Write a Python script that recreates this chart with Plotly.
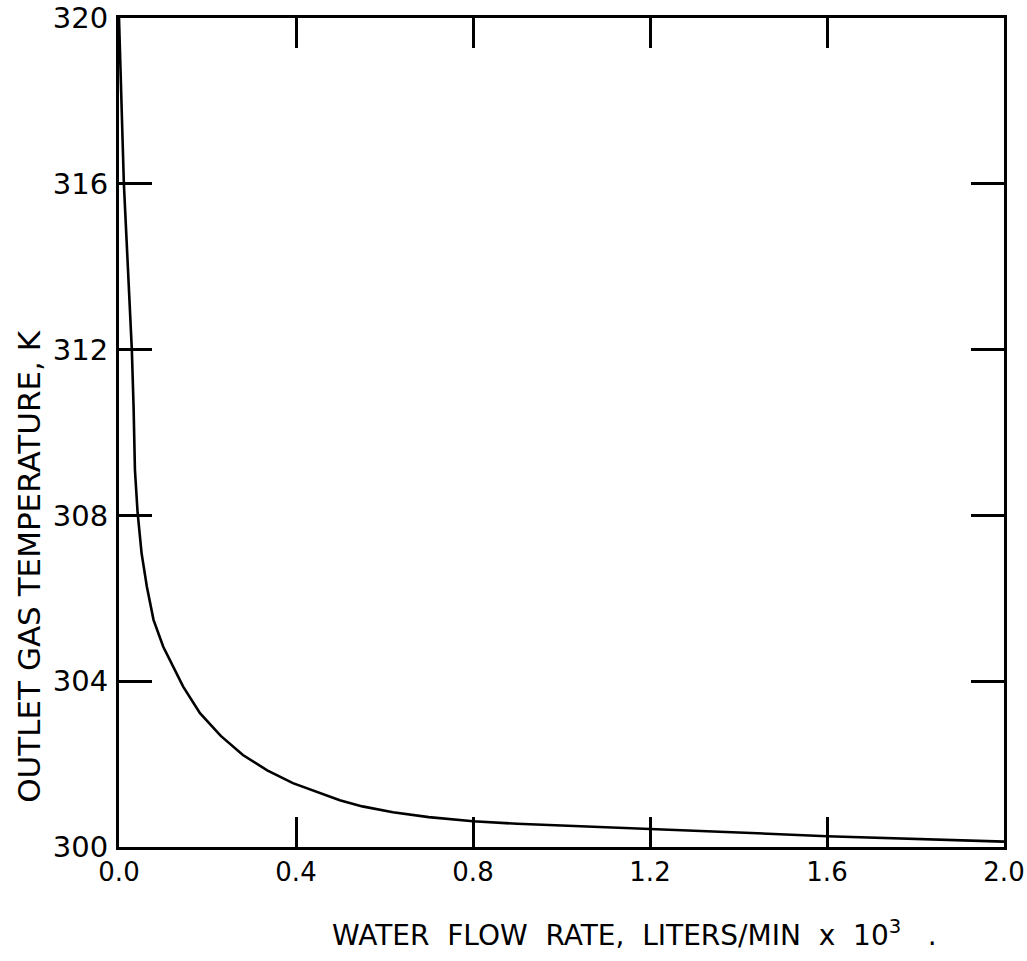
import plotly.graph_objects as go

# Data
flow_rate = [0.0, 0.005, 0.011, 0.020, 0.029, 0.033, 0.036, 0.042, 0.051, 0.063,
             0.078, 0.100, 0.130, 0.145, 0.183, 0.230, 0.280, 0.335, 0.393, 0.45,
             0.499, 0.55, 0.619, 0.70, 0.80, 0.90, 1.0, 1.2, 1.4, 1.6, 1.8, 2.0]
outlet_temp = [320.0, 317.9, 316.0, 314.0, 312.0, 310.6, 309.1, 308.07, 307.09, 306.28,
               305.48, 304.83, 304.2, 303.87, 303.23, 302.68, 302.22, 301.85, 301.54, 301.31,
               301.13, 300.98, 300.84, 300.72, 300.62, 300.56, 300.52, 300.44, 300.35, 300.26,
               300.19, 300.13]

x_tickvals = [0.0, 0.4, 0.8, 1.2, 1.6, 2.0]
x_ticktext = ["0.0", "0.4", "0.8", "1.2", "1.6", "2.0"]
y_tickvals = [300, 304, 308, 312, 316, 320]
y_ticktext = ["300", "304", "308", "312", "316", "320"]

x_title = "WATER  FLOW  RATE,  LITERS/MIN  x  10<sup>3</sup>   ."
y_title = "OUTLET GAS TEMPERATURE, K"

FONT = "DejaVu Sans"

fig = go.Figure()
fig.add_trace(go.Scatter(
    x=flow_rate, y=outlet_temp, mode="lines",
    line=dict(color="black", width=2.6),
    showlegend=False, hoverinfo="skip"))

fig.update_xaxes(
    range=[0, 2.0], tickvals=x_tickvals, ticktext=x_ticktext,
    ticks="inside", ticklen=30, tickwidth=2.5, tickcolor="black",
    showline=True, linewidth=3, linecolor="black", mirror="ticks",
    showgrid=False, zeroline=False, automargin=False,
    tickfont=dict(family=FONT, size=26, color="black"))
fig.update_yaxes(
    range=[300, 320], tickvals=y_tickvals, ticktext=y_ticktext,
    ticks="inside", ticklen=33, tickwidth=2.5, tickcolor="black",
    showline=True, linewidth=3, linecolor="black", mirror="ticks",
    showgrid=False, zeroline=False, ticklabelstandoff=2, automargin=False,
    tickfont=dict(family=FONT, size=29, color="black"))

fig.add_annotation(
    text=x_title, xref="paper", yref="paper", x=0.583, y=0,
    xanchor="center", yanchor="middle", yshift=-86, showarrow=False,
    font=dict(family=FONT, size=28, color="black"))
fig.add_annotation(
    text=y_title, xref="paper", yref="paper", x=0, y=0.338,
    xanchor="center", yanchor="middle", xshift=-90, textangle=-90,
    showarrow=False, font=dict(family=FONT, size=31, color="black"))

fig.update_layout(
    width=1027, height=961,
    margin=dict(l=119, r=23, t=18, b=114),
    paper_bgcolor="white", plot_bgcolor="white")

fig.write_html("out.html")
